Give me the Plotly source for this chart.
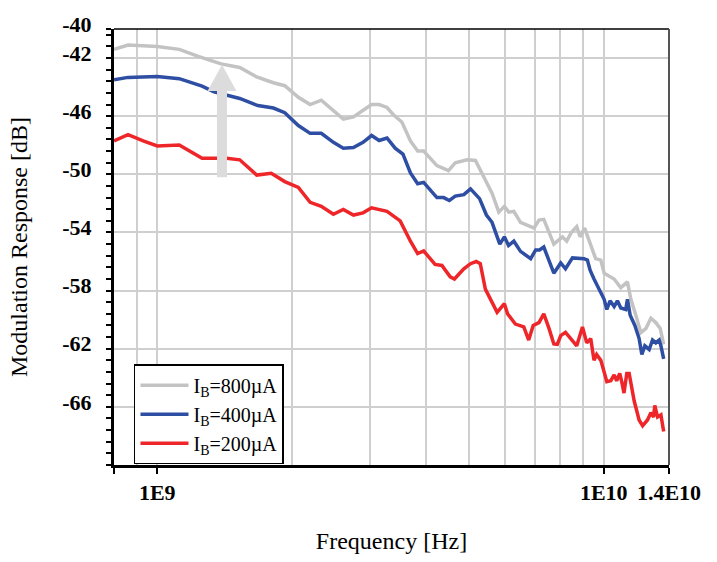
import plotly.graph_objects as go

# Frequencies in GHz, response in dB
f_800 = [0.80, 0.86, 1.00, 1.12, 1.24, 1.39, 1.53, 1.67, 1.82, 1.93, 2.07, 2.20, 2.33, 2.48, 2.61, 2.75,
         3.02, 3.14, 3.27, 3.38, 3.53, 3.69, 3.83, 3.95, 4.23, 4.49, 4.65, 4.94, 5.16, 5.29, 5.48, 5.62,
         5.82, 5.99, 6.13, 6.29, 6.51, 6.98, 7.16, 7.34, 7.73, 8.08, 8.26, 8.46, 8.70, 8.85, 9.06, 9.35,
         9.59, 9.85, 10.02, 10.55, 10.92, 11.30, 11.50, 11.80, 12.11, 12.43, 12.75, 13.08, 13.38, 13.62]
r_800 = [-41.4, -41.1, -41.2, -41.4, -41.9, -42.4, -42.65, -43.3, -43.7, -43.9, -44.7, -45.2, -44.9, -45.6,
         -46.2, -46.05, -45.2, -45.2, -45.4, -45.9, -46.4, -47.7, -48.4, -48.4, -49.4, -49.75, -49.2, -49.0,
         -49.05, -49.7, -50.7, -51.3, -52.6, -52.2, -52.6, -52.55, -53.3, -53.7, -53.15, -53.1, -54.8, -54.3,
         -54.6, -54.0, -53.6, -54.3, -53.7, -54.8, -55.8, -55.9, -56.8, -57.2, -57.8, -57.4, -58.6, -59.7,
         -60.9, -60.6, -59.9, -60.2, -60.6, -61.7]

f_400 = [0.80, 0.86, 1.00, 1.12, 1.26, 1.34, 1.53, 1.68, 1.82, 1.93, 2.07, 2.20, 2.33, 2.48, 2.61, 2.75,
         2.89, 3.02, 3.14, 3.27, 3.41, 3.55, 3.69, 3.83, 3.95, 4.23, 4.38, 4.51, 4.65, 4.86, 5.03, 5.27,
         5.46, 5.62, 5.85, 5.99, 6.12, 6.29, 6.51, 6.86, 7.04, 7.18, 7.34, 7.73, 8.01, 8.21, 8.51, 9.03,
         9.19, 9.32, 9.51, 9.85, 10.02, 10.16, 10.33, 10.55, 10.73, 10.92, 11.20, 11.30, 11.46, 11.74,
         12.00, 12.17, 12.36, 12.64, 12.86, 13.08, 13.31, 13.43, 13.62]
r_400 = [-43.5, -43.33, -43.27, -43.42, -43.93, -44.33, -44.78, -45.27, -45.44, -45.76, -46.64, -47.18,
         -47.18, -47.8, -48.2, -48.15, -47.8, -47.33, -47.67, -47.5, -48.2, -48.6, -49.9, -50.65, -50.55,
         -51.6, -51.6, -51.8, -51.5, -51.4, -51.0, -51.67, -52.8, -53.3, -54.8, -54.3, -54.9, -54.6, -55.3,
         -55.8, -55.2, -55.2, -55.0, -56.8, -56.1, -56.5, -55.75, -55.8, -55.9, -56.6, -57.2, -58.15, -58.6,
         -59.3, -58.7, -59.1, -58.7, -59.2, -59.3, -58.6, -59.7, -60.4, -61.3, -62.4, -61.8, -62.05, -61.4,
         -61.6, -61.4, -61.8, -62.7]

f_200 = [0.80, 0.86, 0.93, 1.00, 1.12, 1.26, 1.43, 1.53, 1.67, 1.80, 1.93, 2.07, 2.20, 2.33, 2.48, 2.61,
         2.75, 2.89, 3.02, 3.27, 3.50, 3.69, 3.83, 3.95, 4.19, 4.34, 4.53, 4.63, 4.86, 5.03, 5.18, 5.29,
         5.43, 5.62, 5.77, 5.99, 6.09, 6.34, 6.62, 6.79, 6.95, 7.16, 7.34, 7.54, 7.73, 7.87, 8.01, 8.21,
         8.46, 8.70, 8.96, 9.16, 9.35, 9.51, 9.64, 9.85, 10.02, 10.16, 10.37, 10.55, 10.69, 10.86, 10.97,
         11.10, 11.26, 11.40, 11.70, 12.00, 12.22, 12.53, 12.75, 12.93, 13.01, 13.20, 13.43, 13.62]
r_200 = [-47.7, -47.27, -47.7, -48.05, -47.98, -48.89, -48.89, -49.0, -50.05, -49.93, -50.5, -50.9, -51.93,
         -52.2, -52.75, -52.42, -52.8, -52.65, -52.3, -52.55, -53.2, -54.6, -55.45, -55.27, -56.2, -56.27,
         -57.05, -57.2, -56.5, -56.15, -56.0, -56.15, -57.9, -58.8, -59.5, -58.9, -59.6, -60.3, -60.5, -61.4,
         -60.4, -60.2, -59.6, -60.6, -61.67, -61.7, -61.1, -60.87, -61.4, -61.8, -60.5, -61.6, -61.3, -62.8,
         -62.4, -62.8, -63.6, -64.27, -64.2, -63.8, -64.2, -63.7, -64.27, -65.05, -63.7, -63.7, -65.6, -66.9,
         -67.3, -66.9, -66.4, -66.7, -65.9, -66.7, -66.55, -67.7]

series_names = ["I<sub>B</sub>=800µA", "I<sub>B</sub>=400µA", "I<sub>B</sub>=200µA"]
series_colors = ["#c3c3c3", "#2e4ea3", "#ee2629"]

y_tickvals = [-40, -42, -46, -50, -54, -58, -62, -66]
y_ticktext = ["-40", "-42", "-46", "-50", "-54", "-58", "-62", "-66"]
x_tickvals = [8e8, 1e9, 1e10, 1.4e10]
x_ticktext = ["", "1E9", "1E10", "1.4E10"]
x_gridvals = [9e8, 2e9, 3e9, 4e9, 5e9, 6e9, 7e9, 8e9, 9e9]

SERIF = "Liberation Serif"

fig = go.Figure()
for fx, ry, name, col in zip([f_800, f_400, f_200], [r_800, r_400, r_200], series_names, series_colors):
    fig.add_trace(go.Scatter(x=[v * 1e9 for v in fx], y=ry, mode="lines", name=name,
                             line=dict(color=col, width=3.5)))

fig.update_layout(
    width=717, height=562,
    margin=dict(l=114, r=48, t=22, b=90),
    plot_bgcolor="white", paper_bgcolor="white",
    font=dict(family=SERIF, color="black"),
    showlegend=True,
    legend=dict(x=0.036, y=0.231, xanchor="left", yanchor="top",
                bordercolor="black", borderwidth=1.5, bgcolor="white",
                font=dict(family=SERIF, size=20, color="black"),
                tracegroupgap=0, itemwidth=48),
)

fig.update_xaxes(
    type="log", range=[8.90309, 10.14613],
    tickvals=x_tickvals, ticktext=x_ticktext,
    ticks="outside", ticklen=6, tickwidth=1.5, tickcolor="black",
    showline=True, linecolor="black", linewidth=3,
    showgrid=True, gridcolor="#cfcfcf", gridwidth=1.5,
    minor=dict(tickvals=x_gridvals, showgrid=True, gridcolor="#cfcfcf", gridwidth=1.5, ticks=""),
    tickfont=dict(family=SERIF, size=22, color="black", weight="bold"),
    title=dict(text="Frequency [Hz]", font=dict(family=SERIF, size=24, color="black"), standoff=28),
    zeroline=False,
)
fig.update_yaxes(
    range=[-70, -40],
    tickvals=y_tickvals, ticktext=y_ticktext,
    ticks="outside", ticklen=5, tickwidth=1.5, tickcolor="black",
    ticklabelstandoff=10, ticklabelshift=-5,
    showline=True, linecolor="black", linewidth=3,
    showgrid=True, gridcolor="#cfcfcf", gridwidth=1.5,
    minor=dict(tick0=-42, dtick=0.8, ticks="outside", ticklen=5, tickwidth=1.5, tickcolor="black", showgrid=False),
    tickfont=dict(family=SERIF, size=22, color="black", weight="bold"),
    title=dict(text="Modulation Response [dB]", font=dict(family=SERIF, size=24, color="black"), standoff=28),
    zeroline=False,
)

# top and right frame
fig.add_shape(type="line", xref="paper", yref="paper", x0=0, x1=1, y0=1, y1=1,
              line=dict(color="black", width=1.5), layer="above")
fig.add_shape(type="line", xref="paper", yref="paper", x0=1, x1=1, y0=0, y1=1,
              line=dict(color="#555555", width=2), layer="above")

# big light-gray arrow (decoration, paper coordinates)
ax, sw, hw = 0.1946, 0.009, 0.026
y_tip, y_base, y_bot = 0.918, 0.858, 0.66
fig.add_shape(type="path", xref="paper", yref="paper", layer="above",
              path=(f"M {ax - sw} {y_bot} L {ax - sw} {y_base} L {ax - hw} {y_base} L {ax} {y_tip} "
                    f"L {ax + hw} {y_base} L {ax + sw} {y_base} L {ax + sw} {y_bot} Z"),
              fillcolor="#dcdcdc", line=dict(width=0))

fig.write_html("out.html")
